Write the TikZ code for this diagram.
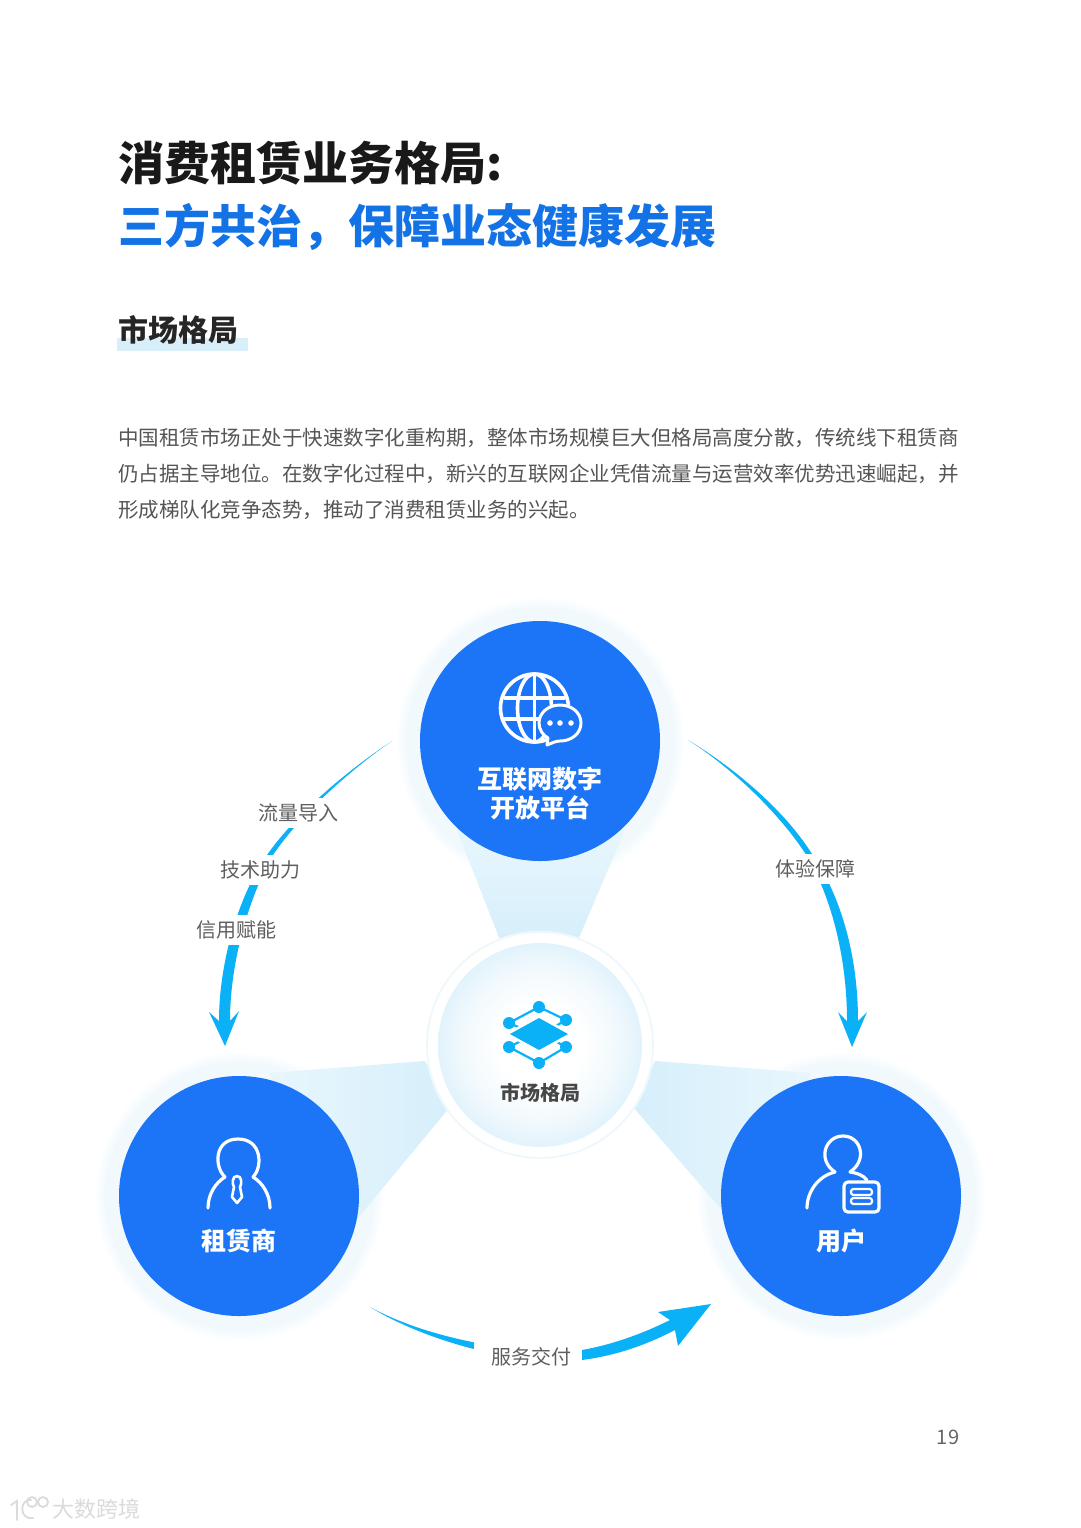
\documentclass[tikz,border=0pt]{standalone}
\usepackage{fontspec}
\setmainfont{Noto Sans CJK SC}
\usetikzlibrary{calc}
\definecolor{mainblue}{HTML}{1B75F6}
\definecolor{titleblue}{HTML}{1272E6}
\definecolor{arrowcyan}{HTML}{0AB1F7}
\definecolor{haloA}{HTML}{F1F9FD}
\definecolor{coneA}{HTML}{E8F6FC}
\definecolor{coneB}{HTML}{D6EFFB}
\definecolor{ringc}{HTML}{EEF7FB}
\definecolor{coreA}{HTML}{F3FAFD}
\definecolor{coreB}{HTML}{E2F3FC}
\definecolor{bodyc}{HTML}{555555}
\definecolor{labelc}{HTML}{5F5F5F}
\definecolor{highlight}{HTML}{D8EEF8}
\pgfdeclareradialshading{coreshade}{\pgfpointorigin}{color(0bp)=(white); color(10bp)=(white); color(18bp)=(coreA); color(25bp)=(coreB); color(50bp)=(coreB)}
\pgfdeclareradialshading{haloshade}{\pgfpointorigin}{color(0bp)=(haloA); color(23bp)=(haloA); color(25bp)=(white); color(50bp)=(white)}
\newcommand{\fs}[1]{\fontsize{#1}{#1}\selectfont}
\tikzset{
  x=1pt,y=-1pt,
  titleline/.style={anchor=base west,inner sep=0pt,font=\fs{46}\bfseries},
  bodyline/.style={anchor=base west,inner sep=0pt,font=\fs{20.5},text=bodyc},
  hub/.style={circle,fill=mainblue,minimum size=240pt,inner sep=0pt},
  hubtext/.style={inner sep=0pt,font=\fs{25}\bfseries,text=white,align=center},
  flow/.style={fill=arrowcyan},
  flowlabel/.style={fill=white,inner xsep=3pt,inner ysep=0pt,minimum height=30pt,font=\fs{20},text=labelc},
  icon/.style={draw=white,line width=3.6pt,line cap=round,line join=round},
  personline/.style={draw=white,line width=3.2pt,line cap=round,line join=round},
  thinicon/.style={draw=white,line width=2.2pt,line cap=round,line join=round},
  webline/.style={draw=arrowcyan,line width=2.2pt},
  webdot/.style={fill=arrowcyan},
  markline/.style={draw=black!14,line width=1.8pt,line cap=round},
}
\begin{document}
\begin{tikzpicture}
\useasboundingbox (0,0) rectangle (1080,1528);
\fill[white] (0,0) rectangle (1080,1528);

% heading block
\fill[highlight] (117,338) rectangle (248,351);
\node[titleline,text=black!90] (t1) at (118,180) {消费租赁业务格局:};
\node[titleline,text=titleblue] (t2) at (118,243) {三方共治，保障业态健康发展};
\node[anchor=base west,inner sep=0pt,font=\fs{30}\bfseries,text=black!85] (t3) at (118,341) {市场格局};
\node[bodyline] (b1) at (118,445.5) {中国租赁市场正处于快速数字化重构期，整体市场规模巨大但格局高度分散，传统线下租赁商};
\node[bodyline] (b2) at (118,481.5) {仍占据主导地位。在数字化过程中，新兴的互联网企业凭借流量与运营效率优势迅速崛起，并};
\node[bodyline] (b3) at (118,517.5) {形成梯队化竞争态势，推动了消费租赁业务的兴起。};

% halos
\foreach \c in {(540,741),(239,1196),(841,1196)}{
  \shade[shading=haloshade] \c circle (145);
}

% cones
\shade[top color=coneA,bottom color=coneB] (457,830) -- (625,830) -- (578,940) -- (500,940) -- cycle;
\shade[left color=coneA,right color=coneB] (270,1073) -- (425,1061) -- (450,1107) -- (358,1218) -- (300,1200) -- cycle;
\shade[left color=coneB,right color=coneA] (655,1061) -- (810,1073) -- (780,1200) -- (722,1210) -- (633,1107) -- cycle;

% hubs
\node[hub] (top) at (540,741) {};
\node[hub] (left) at (239,1196) {};
\node[hub] (right) at (841,1196) {};

% centre
\fill[white] (540,1045) circle (114);
\draw[ringc,line width=1.8pt] (540,1045) circle (113);
\shade[shading=coreshade] (540,1045) circle (102);
\node[inner sep=0pt,font=\fs{20}\bfseries,text=black!72] (core) at (540,1093) {市场格局};

% centre icon
\coordinate (a1) at (509,1023); \coordinate (a2) at (539,1007); \coordinate (a3) at (566,1020);
\coordinate (a4) at (509,1047); \coordinate (a5) at (539,1063); \coordinate (a6) at (566,1047);
\draw[webline] (a1) -- (a2) -- (a3) -- (539,1036) -- cycle;
\draw[webline] (a4) -- (a5) -- (a6) -- (539,1032) -- cycle;
\fill[white] (506,1034) -- (539,1014) -- (572,1034) -- (539,1054) -- cycle;
\fill[webdot] (510,1034) -- (539,1018) -- (568,1034) -- (539,1050) -- cycle;
\foreach \p in {a1,a2,a3,a4,a5,a6}{\fill[webdot] (\p) circle (6);}

% globe icon
\coordinate (g) at (534.5,708);
\draw[icon] (g) circle (34);
\draw[icon] (g) ellipse (17 and 34);
\draw[icon] (534.5,674) -- (534.5,742);
\draw[icon] (505,698) -- (564,698);
\draw[icon] (505,719) -- (564,719);
\path[fill=mainblue,icon,line width=3pt] (560,705) .. controls (548,705) and (539,713) .. (539,723)
  .. controls (539,730) and (543,735) .. (548,738) -- (547,745)
  .. controls (552,743) and (556,741) .. (560,741)
  .. controls (572,741) and (581,733) .. (581,723)
  .. controls (581,713) and (572,705) .. (560,705) -- cycle;
\foreach \x in {550,560,571}{\fill[white] (\x,723) circle (2.8);}
\node[hubtext] (topa) at (540,779) {互联网数字};
\node[hubtext] (topb) at (540,808) {开放平台};

% lessor icon
\draw[personline] (225,1177) .. controls (214,1167) and (214,1139) .. (238,1139)
  .. controls (262,1139) and (263,1167) .. (253,1177);
\draw[personline] (225,1177) .. controls (215,1183) and (208,1195) .. (208,1208);
\draw[personline] (253,1177) .. controls (263,1183) and (270,1195) .. (270,1208);
\draw[thinicon,line width=2.6pt] (237,1176) .. controls (232,1176) and (232,1184) .. (234,1187)
  -- (232,1197) -- (237,1203) -- (242,1197) -- (240,1187)
  .. controls (242,1184) and (242,1176) .. (237,1176) -- cycle;
\node[hubtext] (lefta) at (239,1241) {租赁商};

% user icon
\draw[personline] (835,1172) .. controls (817,1160) and (825,1136) .. (843,1136)
  .. controls (861,1136) and (868,1160) .. (850,1172);
\draw[personline] (835,1172) .. controls (818,1176) and (807,1192) .. (807,1208);
\draw[personline] (850,1172) .. controls (857,1173) and (863,1175) .. (867,1180);
\draw[personline,rounded corners=4pt,fill=mainblue] (844,1182) rectangle (879,1212);
\draw[thinicon,rounded corners=2.5pt] (851,1189) rectangle (872,1195);
\draw[thinicon,rounded corners=2.5pt] (851,1198) rectangle (872,1204);
\node[hubtext] (righta) at (841,1241) {用户};

% flow arrows
\coordinate (ls) at (392,741); \coordinate (lt) at (225,1046);
\coordinate (rs) at (688,740); \coordinate (rt) at (852,1047);
\coordinate (bs) at (370,1307); \coordinate (bt) at (711,1304);
\fill[flow] (ls) .. controls (345,772) and (295,815) .. (267,855)
  .. controls (240,893) and (219,960) .. (219,1021)
  -- (209,1012) -- (lt) -- (239,1011) -- (230,1021)
  .. controls (230,960) and (250,895) .. (273,855)
  .. controls (300,815) and (350,770) .. (ls) -- cycle;
\fill[flow] (rs) .. controls (735,770) and (780,815) .. (805,853)
  .. controls (830,893) and (847,955) .. (847,1021)
  -- (838,1012) -- (rt) -- (867,1012) -- (858,1021)
  .. controls (858,950) and (838,890) .. (810,851)
  .. controls (785,812) and (738,770) .. (rs) -- cycle;
\fill[flow] (bs) .. controls (420,1338) and (510,1366) .. (582,1360)
  .. controls (620,1355) and (650,1343) .. (675,1330)
  -- (678,1346) -- (bt) -- (658,1312) -- (670,1320)
  .. controls (640,1335) and (610,1345) .. (582,1350)
  .. controls (540,1355) and (440,1345) .. (bs) -- cycle;

% flow labels
\node[flowlabel] (f1) at (298,813) {流量导入};
\node[flowlabel] (f2) at (260,870) {技术助力};
\node[flowlabel] (f3) at (236.5,930) {信用赋能};
\node[flowlabel] (f4) at (815.5,869) {体验保障};
\node[flowlabel,minimum width=108pt,minimum height=34pt] (f5) at (528,1357) {\hspace*{6pt}服务交付};

% page number
\node[inner sep=0pt,font=\fs{20},text=black!60] (page) at (948,1437) {19};

% watermark
\draw[markline] (11,1505) -- (17,1501) -- (17,1520);
\draw[markline] (31,1500) .. controls (20,1498) and (18,1520) .. (33,1518);
\draw[markline] (32,1502) circle (5);
\draw[markline] (43,1502) circle (5);
\node[inner sep=0pt,font=\fs{22},text=black!14] (mark) at (96,1509) {大数跨境};
\end{tikzpicture}
\end{document}
